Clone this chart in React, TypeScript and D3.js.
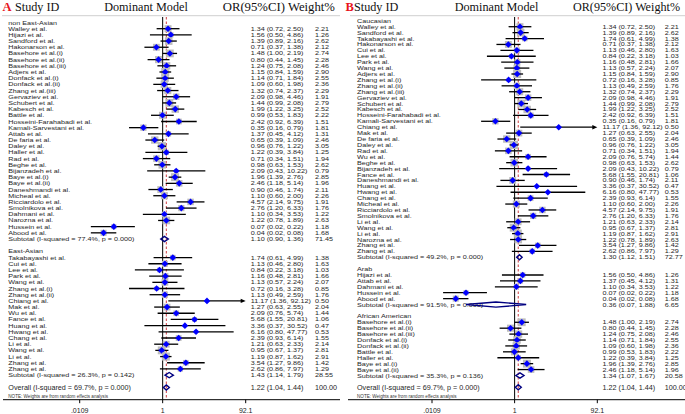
import React from "react";
import * as d3 from "d3";

// ---------- DATA ----------
const studyNames = [
  "Walley et al.", "Hijazi et al.", "Sandford et al.", "Hakonarson et al.",
  "Basehore et al.(i)", "Basehore et al.(ii)", "Basehore  et al.(iii)", "Adjers et al.",
  "Donfack et al.(i)", "Donfack et al.(ii)", "Zhang et al.(iii)", "Gervaziev et al.",
  "Schubert et al.", "Kabesch et al.", "Battle et al.", "Hosseini-Farahabadi et al.",
  "Kamali-Sarvestani et al.", "Attab et al.", "De faria et al.", "Daley et al.",
  "Haller et al.", "Rad et al.", "Beghe et al.", "Bijanzadeh et al.",
  "Baye et al.(i)", "Baye et al.(ii)", "Daneshmandi et al.", "Micheal et al.",
  "Ricciardolo et al.", "Smolnikova et al.", "Dahmani et al.", "Narozna et al.",
  "Hussein et al.", "Abood et al.", "Takabayashi et al.", "Cui et al.",
  "Lee et al.", "Park et al.", "Wang et al.", "Zhang et al.(i)",
  "Zhang et al.(ii)", "Chiang et al.", "Mak et al.", "Wu et al.",
  "Fance et al.", "Huang et al.", "Hwang et al.", "Chang et al.",
  "Li et al.", "Wang et al.", "Li et al.", "Zhang et al.", "Zhang et al.",
];
const studyOR = [
  1.34, 1.56, 1.39, 0.71, 1.48, 0.8, 1.24, 1.15, 1.14, 1.09, 1.32, 2.09, 1.44, 1.99,
  0.99, 2.42, 0.35, 1.37, 0.65, 0.96, 1.22, 0.71, 0.98, 2.09, 1.96, 2.46, 0.9, 1.1,
  4.57, 2.76, 1.1, 1.22, 0.07, 0.04, 1.74, 1.13, 0.84, 1.16, 1.13, 0.72, 1.13, 11.17,
  1.27, 2.09, 5.68, 3.36, 6.16, 2.39, 1.21, 0.95, 1.19, 3.54, 2.62,
];
const studyLower = [
  0.72, 0.5, 0.89, 0.37, 1.0, 0.44, 0.75, 0.84, 0.71, 0.6, 0.74, 0.98, 0.99, 1.22,
  0.53, 0.92, 0.16, 0.45, 0.39, 0.76, 0.39, 0.34, 0.63, 0.43, 1.39, 1.18, 0.46, 0.6,
  2.14, 1.2, 0.34, 0.78, 0.02, 0.02, 0.61, 0.46, 0.22, 0.48, 0.57, 0.16, 0.49, 1.36,
  0.63, 0.76, 1.55, 0.37, 0.8, 0.93, 0.63, 0.67, 0.87, 1.27, 0.86,
];
const studyUpper = [
  2.5, 4.86, 2.16, 1.38, 2.19, 1.45, 2.08, 1.59, 1.84, 1.98, 2.37, 4.46, 2.08, 3.25,
  1.83, 6.39, 0.79, 4.12, 1.09, 1.22, 3.84, 1.51, 1.53, 10.22, 2.76, 5.14, 1.74, 2.0,
  9.75, 6.33, 3.53, 1.89, 0.22, 0.08, 4.99, 2.8, 3.18, 2.81, 2.24, 3.28, 2.59, 92.12,
  2.55, 5.74, 20.81, 30.52, 47.77, 6.14, 2.33, 1.37, 1.62, 9.86, 7.97,
];
const studyWeight = [
  2.21, 1.26, 2.62, 2.12, 2.74, 2.28, 2.46, 2.9, 2.55, 2.36, 2.29, 1.91, 2.79, 2.52,
  2.22, 1.51, 1.81, 1.31, 2.46, 3.05, 1.25, 1.94, 2.62, 0.79, 2.85, 1.96, 2.11, 2.26,
  1.91, 1.76, 1.22, 2.63, 1.18, 1.68, 1.38, 1.63, 1.03, 1.66, 2.07, 0.85, 1.76, 0.5,
  2.04, 1.44, 1.06, 0.47, 0.53, 1.55, 2.14, 2.81, 2.91, 1.42, 1.29,
];

// Panel A subgroups
const groupNamesA = ["non East-Asian", "East-Asian"];
const groupMembersA = [
  [0, 1, 2, 3, 4, 5, 6, 7, 8, 9, 10, 11, 12, 13, 14, 15, 16, 17, 18, 19, 20, 21, 22,
    23, 24, 25, 26, 27, 28, 29, 30, 31, 32, 33],
  [34, 35, 36, 37, 38, 39, 40, 41, 42, 43, 44, 45, 46, 47, 48, 49, 50, 51, 52],
];
const subI2A = ["77.4", "26.3"];
const subPA = ["0.000", "0.142"];
const subORA = [1.1, 1.43];
const subLowerA = [0.9, 1.14];
const subUpperA = [1.36, 1.79];
const subWeightA = [71.45, 28.55];

// Panel B subgroups
const groupNamesB = ["Caucasian", "Arab", "African American"];
const groupMembersB = [
  [0, 2, 34, 3, 35, 36, 37, 38, 7, 39, 40, 10, 11, 12, 13, 15, 16, 41, 42, 18, 19, 21,
    43, 22, 23, 44, 26, 45, 46, 47, 27, 28, 29, 48, 49, 50, 31, 51, 52],
  [1, 17, 30, 32, 33],
  [4, 5, 6, 8, 9, 14, 20, 24, 25],
];
const subI2B = ["49.2", "91.5", "35.3"];
const subPB = ["0.000", "0.000", "0.136"];
const subORB = [1.3, 0.36, 1.34];
const subLowerB = [1.12, 0.07, 1.07];
const subUpperB = [1.51, 1.88, 1.67];
const subWeightB = [72.77, 6.65, 20.58];

const overallI2 = "69.7";
const overallP = "0.000";
const overallOR = 1.22;
const overallLower = 1.04;
const overallUpper = 1.44;
const overallWeight = 100;

const axisTicks = [0.0109, 1, 92.1];
const axisTickLabels = [".0109", "1", "92.1"];
const axisDomain = [0.0109, 92.1];

// ---------- LAYOUT ----------
const SANS = "'Liberation Sans', Arial, sans-serif";
const SERIF = "'Liberation Serif', 'Times New Roman', serif";
const f2 = d3.format(".2f");

type Row =
  | { kind: "group"; text: string }
  | { kind: "study"; i: number }
  | { kind: "sub"; g: number }
  | { kind: "blank" }
  | { kind: "overall" };

interface PanelCfg {
  letter: string;
  letterX: number;
  studyIdX: number;
  dmCenter: number;
  orHeadX0: number;
  orHeadX1: number;
  headLine: [number, number];
  axisLine: [number, number];
  labelX: number;
  orX: number;
  wX: number;
  axisRange: [number, number];
  rowRange: [number, number];
  groupNames: string[];
  groupMembers: number[][];
  subI2: string[];
  subP: string[];
  subOR: number[];
  subLower: number[];
  subUpper: number[];
  subWeight: number[];
}

const FS = 7.2;
const TEXT_FILL = "#1e1e1e";

// Row text, slightly condensed vertically like the reference
function RowText({ x, y, children, sy = 0.8 }: { x: number; y: number; children: React.ReactNode; sy?: number }) {
  return (
    <g transform={`translate(${x},${y}) scale(1,${sy})`}>
      <text x={0} y={0} dy="0.35em" fontFamily={SANS} fontSize={FS} fill={TEXT_FILL}>
        {children}
      </text>
    </g>
  );
}

function Panel({ cfg }: { cfg: PanelCfg }) {
  const rows: Row[] = [];
  cfg.groupNames.forEach((name, g) => {
    rows.push({ kind: "group", text: name });
    cfg.groupMembers[g].forEach((i) => rows.push({ kind: "study", i }));
    rows.push({ kind: "sub", g });
    rows.push({ kind: "blank" });
  });
  rows.push({ kind: "overall" });

  const y = d3
    .scalePoint<number>()
    .domain(d3.range(rows.length))
    .range(cfg.rowRange);
  const x = d3.scaleLog().domain(axisDomain).range(cfg.axisRange);
  const xMax = x(axisDomain[1]);
  const xMin = x(axisDomain[0]);

  const topY = 17;
  const axisY = 399.7;

  const diamond = (lo: number, mid: number, hi: number, yy: number, h: number) =>
    `M${x(lo)},${yy}L${x(mid)},${yy - h}L${x(hi)},${yy}L${x(mid)},${yy + h}Z`;

  return (
    <g>
      {/* header */}
      <text x={cfg.letterX} y={11} fontFamily={SERIF} fontWeight="bold" fontSize={12.5} fill="#e8141c">
        {cfg.letter}
      </text>
      <text x={cfg.studyIdX} y={11} fontFamily={SERIF} fontSize={12.2} fill="#111">
        Study ID
      </text>
      <text x={cfg.dmCenter} y={11} fontFamily={SERIF} fontSize={12.2} fill="#111" textAnchor="middle">
        Dominant Model
      </text>
      <text
        x={cfg.orHeadX0}
        y={11}
        fontFamily={SERIF}
        fontSize={12.2}
        fill="#111"
        textLength={cfg.orHeadX1 - cfg.orHeadX0}
        lengthAdjust="spacingAndGlyphs"
      >
        OR(95%CI) Weight%
      </text>
      <line x1={cfg.headLine[0]} x2={cfg.headLine[1]} y1={15.7} y2={15.7} stroke="#cfcfcf" strokeWidth={1} />

      {/* reference lines */}
      <line x1={x(1)} x2={x(1)} y1={topY} y2={axisY} stroke="#000" strokeWidth={1} />
      <line
        x1={x(overallOR)}
        x2={x(overallOR)}
        y1={topY}
        y2={axisY}
        stroke="#c8282d"
        strokeWidth={0.9}
        strokeDasharray="2.5,2"
      />

      {/* rows */}
      {rows.map((r, k) => {
        const yy = y(k) as number;
        if (r.kind === "group") {
          return (
            <RowText key={k} x={cfg.labelX} y={yy}>
              {r.text}
            </RowText>
          );
        }
        if (r.kind === "study") {
          const i = r.i;
          const side = 4.7 * Math.sqrt(studyWeight[i]);
          const cx = x(studyOR[i]);
          const hiClip = studyUpper[i] > axisDomain[1];
          const xHi = hiClip ? xMax : x(studyUpper[i]);
          const xLo = studyLower[i] < axisDomain[0] ? xMin : x(studyLower[i]);
          const d = 3.3;
          return (
            <g key={k}>
              <rect x={cx - side / 2} y={yy - side / 2} width={side} height={side} fill="#bdbdbd" />
              <line x1={xLo} x2={hiClip ? xHi - 4 : xHi} y1={yy} y2={yy} stroke="#000" strokeWidth={1.3} />
              {hiClip && (
                <path d={`M${xHi - 5},${yy - 2.2}L${xHi},${yy}L${xHi - 5},${yy + 2.2}Z`} fill="#000" />
              )}
              <path d={`M${cx - d},${yy}L${cx},${yy - d}L${cx + d},${yy}L${cx},${yy + d}Z`} fill="#0000ff" />
              <RowText x={cfg.labelX} y={yy}>
                {studyNames[i]}
              </RowText>
              <RowText x={cfg.orX} y={yy}>
                {`${f2(studyOR[i])} (${f2(studyLower[i])}, ${f2(studyUpper[i])})`}
              </RowText>
              <RowText x={cfg.wX} y={yy}>
                {f2(studyWeight[i])}
              </RowText>
            </g>
          );
        }
        if (r.kind === "sub") {
          const g = r.g;
          return (
            <g key={k}>
              <RowText x={cfg.labelX} y={yy}>
                {`Subtotal  (I-squared = ${cfg.subI2[g]}%, p = ${cfg.subP[g]})`}
              </RowText>
              <path
                d={diamond(cfg.subLower[g], cfg.subOR[g], cfg.subUpper[g], yy, 2.6)}
                fill="none"
                stroke="#000080"
                strokeWidth={1.4}
              />
              <RowText x={cfg.orX} y={yy}>
                {`${f2(cfg.subOR[g])} (${f2(cfg.subLower[g])}, ${f2(cfg.subUpper[g])})`}
              </RowText>
              <RowText x={cfg.wX} y={yy}>
                {f2(cfg.subWeight[g])}
              </RowText>
            </g>
          );
        }
        if (r.kind === "overall") {
          return (
            <g key={k}>
              <RowText x={cfg.labelX} y={yy} sy={1}>
                {`Overall  (I-squared = ${overallI2}%, p = ${overallP})`}
              </RowText>
              <path
                d={diamond(overallLower, overallOR, overallUpper, yy, 2.6)}
                fill="none"
                stroke="#000080"
                strokeWidth={1.4}
              />
              <RowText x={cfg.orX} y={yy} sy={1}>
                {`${f2(overallOR)} (${f2(overallLower)}, ${f2(overallUpper)})`}
              </RowText>
              <RowText x={cfg.wX} y={yy} sy={1}>
                {f2(overallWeight)}
              </RowText>
            </g>
          );
        }
        return null;
      })}

      {/* note */}
      <text x={cfg.labelX} y={396.3} dy="0.35em" fontFamily={SANS} fontSize={4.6} fill="#333">
        NOTE: Weights are from random effects analysis
      </text>

      {/* axis */}
      <line x1={cfg.axisLine[0]} x2={cfg.axisLine[1]} y1={axisY} y2={axisY} stroke="#000" strokeWidth={1} />
      {axisTicks.map((t, j) => (
        <g key={j}>
          <line x1={x(t)} x2={x(t)} y1={axisY} y2={axisY + 3.5} stroke="#000" strokeWidth={1} />
          <text
            x={x(t)}
            y={410.2}
            dy="0.35em"
            textAnchor="middle"
            fontFamily={SANS}
            fontSize={7}
            fill="#222"
          >
            {axisTickLabels[j]}
          </text>
        </g>
      ))}
    </g>
  );
}

const cfgA: PanelCfg = {
  letter: "A",
  letterX: 2.5,
  studyIdX: 15,
  dmCenter: 146,
  orHeadX0: 222.7,
  orHeadX1: 335,
  headLine: [2, 340],
  axisLine: [3, 340],
  labelX: 8.3,
  orX: 250.7,
  wX: 315,
  axisRange: [79.7, 245.7],
  rowRange: [22.5, 387.5],
  groupNames: groupNamesA,
  groupMembers: groupMembersA,
  subI2: subI2A,
  subP: subPA,
  subOR: subORA,
  subLower: subLowerA,
  subUpper: subUpperA,
  subWeight: subWeightA,
};

const cfgB: PanelCfg = {
  letter: "B",
  letterX: 345.5,
  studyIdX: 354,
  dmCenter: 496.5,
  orHeadX0: 573,
  orHeadX1: 680,
  headLine: [350, 685],
  axisLine: [348, 685],
  labelX: 357,
  orX: 602.5,
  wX: 664.7,
  axisRange: [432, 597.3],
  rowRange: [20.8, 387.3],
  groupNames: groupNamesB,
  groupMembers: groupMembersB,
  subI2: subI2B,
  subP: subPB,
  subOR: subORB,
  subLower: subLowerB,
  subUpper: subUpperB,
  subWeight: subWeightB,
};

export default function App() {
  return (
    <svg
      width={685}
      height={414}
      style={{ position: "absolute", left: 0, top: 0, background: "#fff" }}
    >
      <rect width={685} height={414} fill="#fff" />
      <Panel cfg={cfgA} />
      <Panel cfg={cfgB} />
    </svg>
  );
}
